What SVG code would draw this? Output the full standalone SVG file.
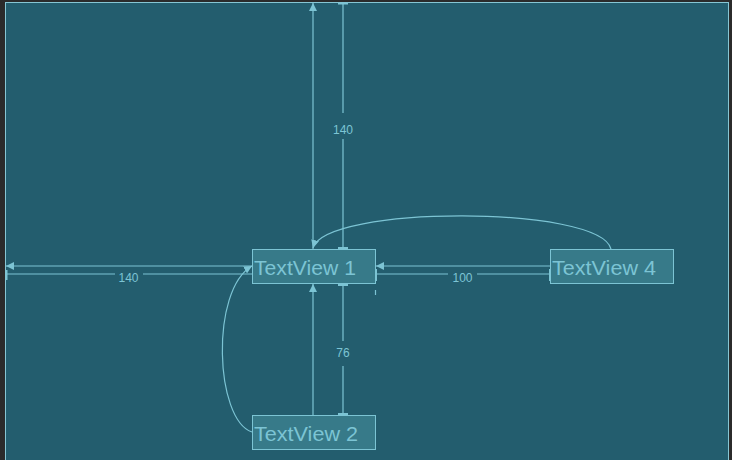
<svg xmlns="http://www.w3.org/2000/svg" width="732" height="460" viewBox="0 0 732 460">
<defs>
<style>
.ln{stroke:#7cc4d4;stroke-width:1.2;fill:none}
.tk{stroke:#7cc4d4;stroke-width:2;fill:none}
.box{fill:#377a89;stroke:#7cc4d4;stroke-width:1}
.nt{font-family:"Liberation Sans",Arial,sans-serif;font-size:21px;fill:#7cc4d4}
.lb{font-family:"Liberation Sans",Arial,sans-serif;font-size:12px;fill:#7cc4d4;text-anchor:middle}
</style>
<marker id="ah" viewBox="0 0 10 10" refX="10" refY="5" markerWidth="8" markerHeight="8" markerUnits="userSpaceOnUse" orient="auto">
<path d="M0,0 L10,5 L0,10 Z" fill="#7cc4d4"/>
</marker>
</defs>
<rect x="0" y="0" width="732" height="460" fill="#2b2b2b"/>
<rect x="5.5" y="2.5" width="723" height="470" fill="#235d6e" stroke="#86c6d4" stroke-width="1"/>
<g id="connectors">
<!-- TextView1 top to parent top -->
<path class="ln" d="M313,249 L313,3" marker-end="url(#ah)"/>
<path class="ln" d="M343,3 L343,113 M343,139 L343,249"/>
<path class="tk" d="M338,3.5 L348,3.5 M338,248 L348,248"/>
<text class="lb" x="343" y="134">140</text>
<!-- TextView1 left to parent left -->
<path class="ln" d="M252,266 L6,266" marker-end="url(#ah)"/>
<path class="ln" d="M6,274 L115,274 M143,274 L252,274"/>
<path class="tk" d="M6.5,270 L6.5,280"/>
<text class="lb" x="128.5" y="281.5">140</text>
<!-- TextView4 to TextView1 -->
<path class="ln" d="M550,266 L376,266" marker-end="url(#ah)"/>
<path class="ln" d="M376,274 L448,274 M477,274 L550,274"/>
<path class="tk" d="M376,269 L376,281 M550,269 L550,281"/>
<path class="ln" d="M375.5,290 L375.5,295"/>
<text class="lb" x="462.5" y="281.5">100</text>
<!-- TextView2 to TextView1 -->
<path class="ln" d="M313,415 L313,284" marker-end="url(#ah)"/>
<path class="ln" d="M343,284 L343,341 M343,366 L343,415"/>
<path class="tk" d="M338,285 L348,285 M338,414 L348,414"/>
<text class="lb" x="343" y="357">76</text>
<!-- curves -->
<path class="ln" d="M611,249 C600,205 325,205 313,248" marker-end="url(#ah)"/>
<path class="ln" d="M252,432 C215,420 210,290 252,266" marker-end="url(#ah)"/>
</g>
<g id="textview1">
<rect class="box" x="252.5" y="249.5" width="123" height="34"/>
<text class="nt" x="254" y="275" textLength="102" lengthAdjust="spacingAndGlyphs">TextView 1</text>
</g>
<g id="textview4">
<rect class="box" x="550.5" y="249.5" width="123" height="34"/>
<text class="nt" x="552" y="275" textLength="104" lengthAdjust="spacingAndGlyphs">TextView 4</text>
</g>
<g id="textview2">
<rect class="box" x="252.5" y="415.5" width="123" height="34"/>
<text class="nt" x="254" y="441" textLength="104" lengthAdjust="spacingAndGlyphs">TextView 2</text>
</g>
</svg>
